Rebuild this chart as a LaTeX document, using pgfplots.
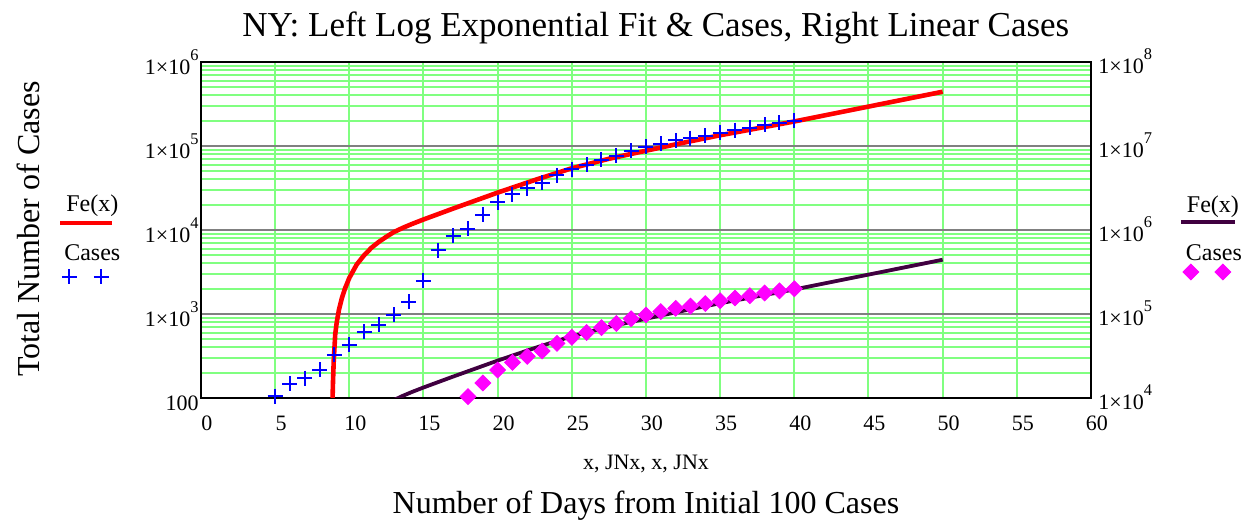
\documentclass[border=0pt]{standalone}
\usepackage{fontspec}
\setmainfont{Liberation Serif}
\usepackage{pgfplots}
\usepackage{pgfplotstable}
\pgfplotsset{compat=1.18}
\definecolor{gridgreen}{RGB}{128,255,128}
\definecolor{gridgray}{RGB}{128,128,128}
\definecolor{fepurple}{RGB}{64,0,64}
\definecolor{casemag}{RGB}{255,0,255}
\newcommand\legfont{\fontsize{12}{14}\selectfont}
\newcommand\sx[1]{\raisebox{7pt}{\fontsize{8.2}{9}\selectfont #1}}

\pgfplotstableread{
x y
5 105
6 147
7 172
8 218
9 325
10 428
11 615
12 740
13 973
14 1400
15 2490
16 5730
17 8490
18 10380
19 15100
20 21500
21 26500
22 31300
23 36300
24 44800
25 52800
26 60200
27 68700
28 77000
29 87600
30 97300
31 106800
32 116800
33 124000
34 133000
35 144000
36 155000
37 165000
38 178000
39 189000
40 200000
}\casestable

\pgfplotstableread{
x y
8.85 50
8.87 100
8.90 158
8.95 282
9.05 575
9.15 794
9.3 1122
9.5 1549
9.7 1995
10.0 2692
10.5 3890
11.0 5012
11.5 6166
12.0 7244
12.5 8318
13.0 9441
13.6 10593
14.2 11749
15.0 13335
16.0 15488
17.0 17989
18.5 22387
20 27861
22.5 39355
25 54325
27.5 70469
30 87902
32.5 109144
35 134276
37.5 162181
40 195884
42.5 240270
45 294442
47.5 360908
50 442588
}\fetable

\begin{document}
\begin{tikzpicture}
\begin{axis}[
  scale only axis, width=445pt, height=168pt,
  xmin=0, xmax=60, ymin=100, ymax=1000000, ymode=log,
  xtick={0,5,...,60},
  ytick={100,1000,10000,100000,1000000},
  yticklabels={100,1×10\sx{3},1×10\sx{4},1×10\sx{5},1×10\sx{6}},
  minor ytick={200,300,400,500,600,700,800,900,2000,3000,4000,5000,6000,7000,8000,9000,20000,30000,40000,50000,60000,70000,80000,90000,200000,300000,400000,500000,600000,700000,800000,900000},
  xtick pos=bottom, ytick pos=left,
  major tick length=0pt, minor tick length=0pt,
  xmajorgrids, ymajorgrids, yminorgrids,
  major x grid style={gridgreen, line width=1pt},
  major y grid style={gridgray, line width=1pt},
  minor y grid style={gridgreen, line width=1pt},
  axis line style={black, line width=1pt},
  tick label style={font=\fontsize{11}{13}\selectfont},
  /pgf/number format/assume math mode=true,
  xticklabel style={anchor=base, yshift=-16.5pt, xshift=3pt, inner sep=0pt},
  yticklabel style={anchor=base east, yshift=-6.5pt, xshift=-1pt, inner sep=0pt},
  legend style={at={(-0.1607,0.6399)}, anchor=north west, draw=none, fill=none,
    inner sep=0pt, outer sep=0pt, row sep=0pt,
    nodes={inner sep=0pt, outer sep=0pt, text depth=0pt}},
  extra description/.code={
    \node[font=\fontsize{17.5}{20}\selectfont] at (0.511,1.101) {NY: Left Log Exponential Fit \& Cases, Right Linear Cases};
    \node[font=\fontsize{11}{13}\selectfont] at (0.5,-0.196) {x, JNx, x, JNx};
    \node[font=\fontsize{16}{18}\selectfont] at (0.5,-0.322) {Number of Days from Initial 100 Cases};
    \node[font=\fontsize{16}{18}\selectfont, rotate=90] at (-0.194,0.503) {Total Number of Cases};
  },
]
\addplot[red, line width=2.3pt, no markers,
  legend image code/.code={
    \path[draw=none, fill=none] (0pt,-7pt) rectangle (27pt,20pt);
    \draw[red, line width=2.3pt] (0pt,0pt) -- (26pt,0pt);
    \node[text=black, font=\legfont, inner sep=0pt] at (16pt,10pt) {Fe(x)};
  }] table[x=x, y=y] {\fetable};
\addlegendentry{\mbox{}}
\addplot[blue, only marks, mark=+, mark size=3.75pt, line width=1pt,
  legend image code/.code={
    \path[draw=none, fill=none] (0pt,-7pt) rectangle (27pt,20pt);
    \draw[blue, line width=1pt, mark size=3.75pt, only marks, mark=+] plot coordinates {(4.5pt,0pt) (20.5pt,0pt)};
    \node[text=black, font=\legfont, inner sep=0pt] at (16pt,12pt) {Cases};
  }] table[x=x, y=y] {\casestable};
\addlegendentry{\mbox{}}
\end{axis}

\begin{axis}[
  scale only axis, width=445pt, height=168pt,
  xmin=0, xmax=60, ymin=10000, ymax=100000000, ymode=log,
  axis x line=none, axis y line*=right,
  ytick={10000,100000,1000000,10000000,100000000},
  yticklabels={1×10\sx{4},1×10\sx{5},1×10\sx{6},1×10\sx{7},1×10\sx{8}},
  major tick length=0pt, minor tick length=0pt,
  axis line style={black, line width=1pt},
  tick label style={font=\fontsize{11}{13}\selectfont},
  yticklabel style={anchor=base west, yshift=-6pt, xshift=3.5pt, inner sep=0pt},
  legend style={at={(1.0989,0.637)}, anchor=north west, draw=none, fill=none,
    inner sep=0pt, outer sep=0pt, row sep=0pt,
    nodes={inner sep=0pt, outer sep=0pt, text depth=0pt}},
]
\addplot[fepurple, line width=1.9pt, no markers,
  legend image code/.code={
    \path[draw=none, fill=none] (0pt,-6pt) rectangle (27pt,19pt);
    \draw[fepurple, line width=1.9pt] (0pt,0pt) -- (27pt,0pt);
    \node[text=black, font=\legfont, inner sep=0pt] at (16pt,9pt) {Fe(x)};
  }] table[x=x, y=y] {\fetable};
\addlegendentry{\mbox{}}
\addplot[casemag, only marks, mark=square*, mark size=2.8pt, mark options={rotate=45, draw=casemag, fill=casemag},
  legend image code/.code={
    \path[draw=none, fill=none] (0pt,-6pt) rectangle (27pt,19pt);
    \draw[casemag, fill=casemag, mark size=2.8pt, only marks, mark=square*, mark options={rotate=45}] plot coordinates {(5pt,0pt) (21pt,0pt)};
    \node[text=black, font=\legfont, inner sep=0pt] at (16.5pt,9.5pt) {Cases};
  }] table[x=x, y=y] {\casestable};
\addlegendentry{\mbox{}}
\end{axis}
\pgfresetboundingbox
\path[use as bounding box] (-100.5pt,-62pt) rectangle (520.5pt,199pt);
\end{tikzpicture}
\end{document}
